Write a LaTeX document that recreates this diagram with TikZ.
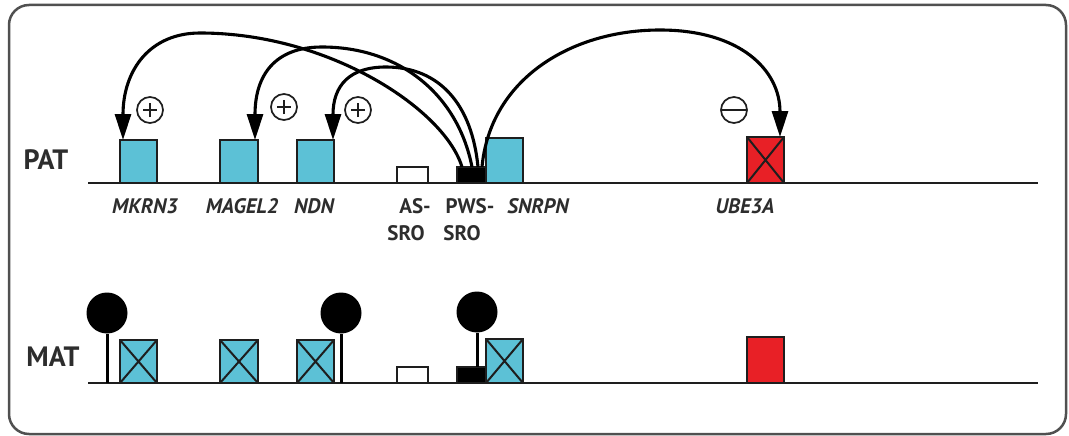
\documentclass[tikz,border=0pt]{standalone}
\usepackage{fontspec}
\setmainfont{PT Sans}
\usetikzlibrary{arrows.meta}
\definecolor{genecyan}{RGB}{92,193,214}
\definecolor{genered}{RGB}{232,32,38}
\definecolor{ink}{RGB}{30,30,30}
\definecolor{labelgray}{RGB}{45,45,45}
\definecolor{framegray}{RGB}{80,80,80}
\begin{document}
\begin{tikzpicture}[x=1pt,y=-1pt,
  box/.style={draw=ink, line width=1.6pt, inner sep=0pt, outer sep=0pt, anchor=south west},
  cyanbox/.style={box, fill=genecyan, minimum width=37pt, minimum height=43pt},
  redbox/.style={box, fill=genered, minimum width=37pt, minimum height=46pt},
  srobox/.style={box, minimum height=16pt},
  crossed/.style={path picture={\draw[ink, line width=2pt]
      (path picture bounding box.north west) -- (path picture bounding box.south east)
      (path picture bounding box.south west) -- (path picture bounding box.north east);}},
  sign/.style={circle, draw=ink, line width=1.7pt, minimum size=26pt, inner sep=0pt},
  plussign/.style={sign, path picture={\draw[ink, line width=2.2pt]
      ([xshift=-7pt]path picture bounding box.center) -- ([xshift=7pt]path picture bounding box.center)
      ([yshift=-7pt]path picture bounding box.center) -- ([yshift=7pt]path picture bounding box.center);}},
  minussign/.style={sign, path picture={\draw[ink, line width=1.7pt]
      ([xshift=-15pt]path picture bounding box.center) -- ([xshift=15pt]path picture bounding box.center);}},
  knob/.style={circle, fill=black, minimum size=41pt, inner sep=0pt},
  stem/.style={black, line width=3pt},
  baseline/.style={ink, line width=2.4pt},
  arc/.style={black, line width=3.1pt, -{Triangle[length=26pt,width=16pt]}},
  rowlabel/.style={text=labelgray, font=\fontsize{28}{30}\selectfont\bfseries, inner sep=0pt},
  genelabel/.style={text=labelgray, font=\fontsize{21}{24}\selectfont\bfseries\itshape, anchor=base, inner sep=0pt},
  regionlabel/.style={text=labelgray, font=\fontsize{21}{24}\selectfont\bfseries, anchor=base, inner sep=0pt}
]
\useasboundingbox (0,0) rectangle (1069,436);
\draw[framegray, line width=2.5pt, rounded corners=20pt] (9,5) rectangle (1066,434);

% chromosome lines
\coordinate (patL) at (88,183);  \coordinate (patR) at (1038,183);
\coordinate (matL) at (88,383);  \coordinate (matR) at (1038,383);
\draw[baseline] (patL) -- (patR);
\draw[baseline] (matL) -- (matR);

\node[rowlabel] (pat) at (46,160) {PAT};
\node[rowlabel] (mat) at (53,357) {MAT};

% paternal allele
\node[cyanbox] (mkrnP) at (120,183) {};
\node[cyanbox, minimum width=38pt] (magP) at (220,183) {};
\node[cyanbox] (ndnP) at (297,183) {};
\node[srobox, fill=white, minimum width=31pt] (asP) at (397,183) {};
\node[srobox, fill=black, minimum width=29pt] (pwsP) at (457,183) {};
\node[cyanbox, minimum height=45pt] (snrpnP) at (486,183) {};
\node[redbox, crossed] (ubeP) at (747,183) {};

% maternal allele
\node[cyanbox, crossed] (mkrnM) at (120,383) {};
\node[cyanbox, crossed, minimum width=38pt] (magM) at (220,383) {};
\node[cyanbox, crossed] (ndnM) at (297,383) {};
\node[srobox, fill=white, minimum width=31pt] (asM) at (397,383) {};
\node[srobox, fill=black, minimum width=29pt] (pwsM) at (457,383) {};
\node[cyanbox, crossed, minimum height=44pt] (snrpnM) at (486,383) {};
\node[redbox] (ubeM) at (747,383) {};

% methylation marks
\node[knob] (me1) at (107,313) {};
\node[knob] (me2) at (341,313) {};
\node[knob] (me3) at (477,312) {};
\coordinate (st1) at (107,383);
\coordinate (st2) at (341,383);
\draw[stem] (me1) -- (st1);
\draw[stem] (me2) -- (st2);
\draw[stem] (me3) -- (me3 |- pwsM.north);

% regulation by the PWS-SRO
\draw[arc] ([xshift=5pt]pwsP.north west) .. controls (445,110) and (330,33) .. (200,33)
  .. controls (150,33) and (123,70) .. ([xshift=3pt]mkrnP.north west);
\draw[arc] ([xshift=15pt]pwsP.north west) .. controls (458,95) and (400,47) .. (322,47)
  .. controls (275,47) and (255,75) .. ([xshift=-3pt]magP.north east);
\draw[arc] ([xshift=21pt]pwsP.north west) .. controls (472,105) and (440,67) .. (386,67)
  .. controls (350,67) and (333,85) .. ([xshift=-1pt]ndnP.north east);
\draw[arc] ([xshift=-4pt]pwsP.north east) .. controls (490,80) and (570,30) .. (660,30)
  .. controls (740,30) and (780,70) .. ([xshift=-4pt]ubeP.north east);

\node[plussign] (s1) at (150,110) {};
\node[plussign] (s2) at (284,107) {};
\node[plussign] (s3) at (358,110) {};
\node[minussign] (s4) at (734,110) {};

% labels
\node[genelabel] (lmkrn) at (145,213) {MKRN3};
\node[genelabel] (lmag) at (242,213) {MAGEL2};
\node[genelabel] (lndn) at (314,213) {NDN};
\node[regionlabel] (las) at (415,213) {AS-};
\node[regionlabel] (lpws) at (470,213) {PWS-};
\node[genelabel] (lsnrpn) at (538,213) {SNRPN};
\node[regionlabel] (las2) at (406,240) {SRO};
\node[regionlabel] (lpws2) at (462,240) {SRO};
\node[genelabel] (lube) at (745,213) {UBE3A};
\end{tikzpicture}
\end{document}
